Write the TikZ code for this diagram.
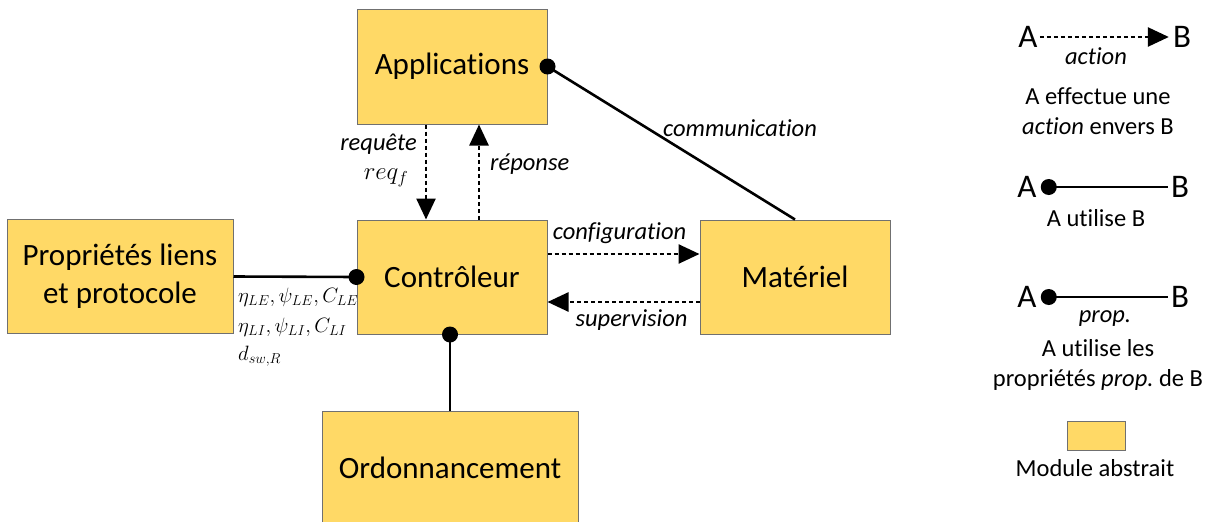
\documentclass[tikz,border=0pt]{standalone}
\usepackage{fontspec}
\setmainfont{Carlito}[Ligatures={NoCommon}]
\usetikzlibrary{arrows.meta,calc}
\definecolor{boxyellow}{HTML}{FFD966}
\definecolor{boxborder}{HTML}{707070}
\frenchspacing
\begin{document}
\begin{tikzpicture}[x=1pt,y=-1pt,
  module/.style={draw=boxborder,line width=1pt,fill=boxyellow,inner sep=0pt,
    align=center,font=\fontsize{31}{38}\selectfont},
  uses/.style={line width=2.6pt,draw=black},
  act/.style={line width=2.6pt,draw=black,dash pattern=on 4pt off 3pt,
    -{Triangle[length=21pt,width=19pt]}},
  lbl/.style={font=\fontsize{24.5}{29}\selectfont\itshape,inner sep=0pt},
  mth/.style={font=\fontsize{21}{25}\selectfont,inner sep=0pt,anchor=west},
  leg/.style={font=\fontsize{24.5}{30}\selectfont,inner sep=0pt,align=center},
  legab/.style={font=\fontsize{33}{38}\selectfont,inner sep=0pt},
  dotc/.style={fill=black}]
\useasboundingbox (0,0) rectangle (1210,522);

% modules
\node[module,minimum width=190pt,minimum height=115pt] (app) at (452,66.5) {Applications};
\node[module,minimum width=190pt,minimum height=114pt] (ctrl) at (452,277) {Contrôleur};
\node[module,minimum width=226pt,minimum height=114pt] (prop) at (120,276.5) {Propriétés liens\\et protocole};
\node[module,minimum width=190pt,minimum height=114pt] (mat) at (795,277) {Matériel};
\node[module,minimum width=256pt,minimum height=114pt,text depth=0pt] (ord) at (450,468) {Ordonnancement};

% Applications -- Matériel
\draw[uses] (app.east) -- (mat.north);
\fill[dotc] (app.east) circle (8);
\node[lbl] (comm) at (740,128) {communication};

% requête / réponse
\draw[act] ($(app.south)+(-26,0)$) -- ($(ctrl.north)+(-26,0)$);
\draw[act] ($(ctrl.north)+(27,0)$) -- ($(app.south)+(27,0)$);
\node[lbl,anchor=east] (req) at (417,144) {requête};
\node[inner sep=0pt,font=\fontsize{27}{30}\selectfont] (reqf) at (386,178) {$req_f$};
\node[lbl,anchor=west] (rep) at (490,164) {réponse};

% configuration / supervision
\draw[act] ($(ctrl.east)+(0,-23)$) -- ($(mat.west)+(0,-23)$);
\draw[act] ($(mat.west)+(0,25)$) -- ($(ctrl.east)+(0,25)$);
\node[lbl] (conf) at (619.5,233) {configuration};
\node[lbl] (sup) at (631.5,320) {supervision};

% Propriétés -- Contrôleur
\draw[uses] (prop.east) -- (ctrl.west);
\fill[dotc] (ctrl.west) circle (8);
\node[mth] (m1) at (238,297) {$\eta_{LE},\psi_{LE},C_{LE}$};
\node[mth] (m2) at (238,327) {$\eta_{LI},\psi_{LI},C_{LI}$};
\node[mth] (m3) at (238,356) {$d_{sw,R}$};

% Ordonnancement -- Contrôleur
\draw[uses] (ord.north) -- (ord.north |- ctrl.south);
\fill[dotc] (ord.north |- ctrl.south) circle (8);

% legend 1
\node[legab] (la1) at (1028,37) {A};
\node[legab] (lb1) at (1182,37) {B};
\draw[act] ($(la1.east)+(2,0)$) -- ($(lb1.west)+(-4,0)$);
\node[lbl] (lact) at (1096,56) {action};
\node[leg] (l1t) at (1098,111) {A effectue une\\\textit{action} envers B};

% legend 2
\node[legab] (la2) at (1027,187) {A};
\node[legab] (lb2) at (1180,187) {B};
\draw[uses] ($(la2.east)+(12,0)$) -- ($(lb2.west)+(-3,0)$);
\fill[dotc] ($(la2.east)+(12,0)$) circle (8);
\node[leg] (l2t) at (1096,218) {A utilise B};

% legend 3
\node[legab] (la3) at (1027,297) {A};
\node[legab] (lb3) at (1180,297) {B};
\draw[uses] ($(la3.east)+(12,0)$) -- ($(lb3.west)+(-3,0)$);
\fill[dotc] ($(la3.east)+(12,0)$) circle (8);
\node[lbl] (lprop) at (1105,319) {prop.};
\node[leg] (l3t) at (1098,365) {A utilise les\\propriétés \textit{prop.} de B};

% legend 4
\node[module,minimum width=58pt,minimum height=29pt] (lmod) at (1096,435.5) {};
\node[leg] (l4t) at (1095,468) {Module abstrait};
\end{tikzpicture}
\end{document}
